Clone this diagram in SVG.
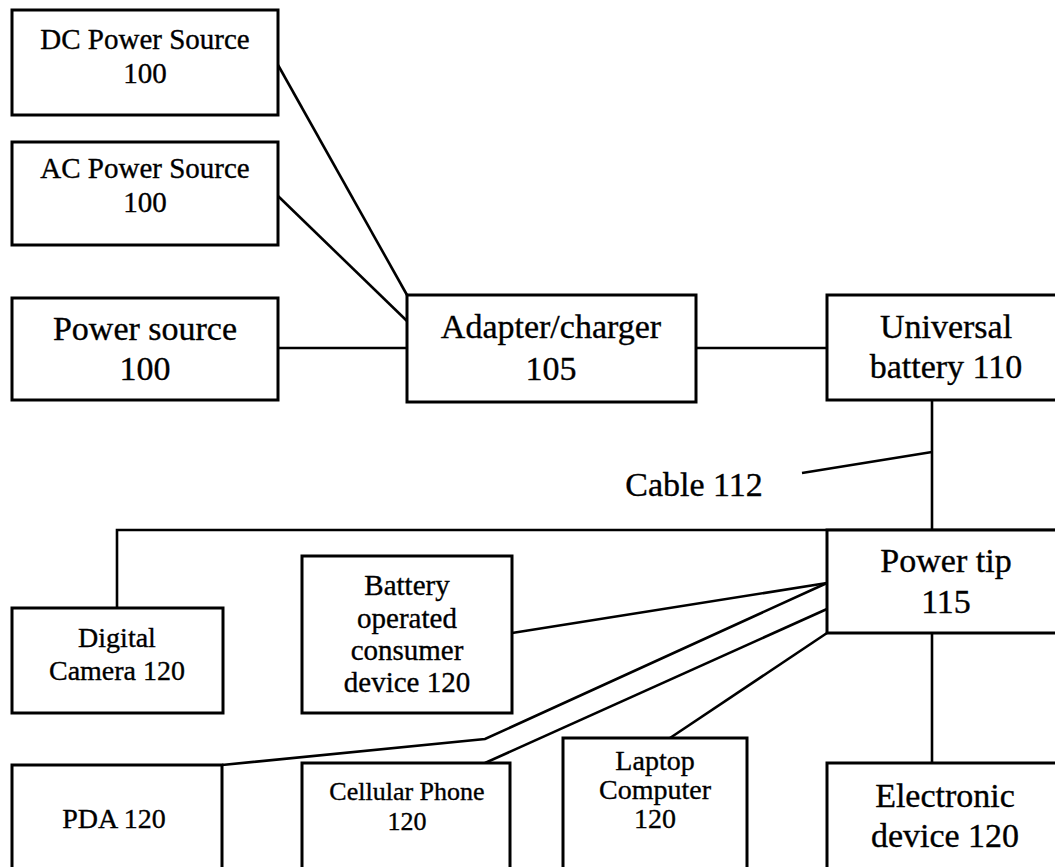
<svg xmlns="http://www.w3.org/2000/svg" width="1055" height="867" viewBox="0 0 1055 867">
<style>
.box{fill:#fff;stroke:#000;stroke-width:3}
.ln{fill:none;stroke:#000;stroke-width:2.6;stroke-linejoin:miter}
text{font-family:"Liberation Serif","Times New Roman",serif;fill:#000;stroke:#000;stroke-width:0.35;text-anchor:middle}
.s{font-size:28px}
.m{font-size:29px}
.l{font-size:34px}
.c{font-size:26px}
</style>
<rect width="1055" height="867" fill="#fff"/>
<g id="connectors">
<line class="ln" x1="278" y1="65" x2="407" y2="295"/>
<line class="ln" x1="278" y1="196" x2="407" y2="321"/>
<line class="ln" x1="278" y1="348" x2="407" y2="348"/>
<line class="ln" x1="696" y1="348" x2="827" y2="348"/>
<line class="ln" x1="932" y1="400" x2="932" y2="530"/>
<line class="ln" x1="802" y1="473" x2="932" y2="452"/>
<polyline class="ln" points="117,608 117,530 1060,530"/>
<line class="ln" x1="512" y1="633" x2="827" y2="583"/>
<polyline class="ln" points="222,765 485,739 827,583"/>
<line class="ln" x1="485" y1="763" x2="827" y2="609"/>
<line class="ln" x1="670" y1="738" x2="827" y2="633"/>
<line class="ln" x1="932" y1="633" x2="932" y2="763"/>
</g>
<g id="dc-source">
<rect class="box" x="12" y="10" width="266" height="105"/>
<text class="m" x="145" y="49">DC Power Source</text>
<text class="m" x="145" y="83">100</text>
</g>
<g id="ac-source">
<rect class="box" x="12" y="142" width="266" height="103"/>
<text class="m" x="145" y="178">AC Power Source</text>
<text class="m" x="145" y="212">100</text>
</g>
<g id="power-source">
<rect class="box" x="12" y="298" width="266" height="102"/>
<text class="l" x="145" y="340">Power source</text>
<text class="l" x="145" y="380">100</text>
</g>
<g id="adapter">
<rect class="box" x="407" y="295" width="289" height="107"/>
<text class="l" x="551" y="338">Adapter/charger</text>
<text class="l" x="551" y="380">105</text>
</g>
<g id="universal-battery">
<rect class="box" x="827" y="295" width="240" height="105"/>
<text class="l" x="946" y="338">Universal</text>
<text class="l" x="946" y="378">battery 110</text>
</g>
<g id="cable-label">
<text class="l" x="694" y="496">Cable 112</text>
</g>
<g id="power-tip">
<rect class="box" x="827" y="530" width="240" height="103"/>
<text class="l" x="946" y="572">Power tip</text>
<text class="l" x="946" y="613">115</text>
</g>
<g id="digital-camera">
<rect class="box" x="12" y="608" width="211" height="105"/>
<text class="s" x="117" y="647">Digital</text>
<text class="s" x="117" y="680">Camera 120</text>
</g>
<g id="battery-device">
<rect class="box" x="302" y="556" width="210" height="157"/>
<text class="m" x="407" y="595">Battery</text>
<text class="m" x="407" y="628">operated</text>
<text class="m" x="407" y="660">consumer</text>
<text class="m" x="407" y="692">device 120</text>
</g>
<g id="pda">
<rect class="box" x="12" y="765" width="210" height="120"/>
<text class="s" x="114" y="828">PDA 120</text>
</g>
<g id="cellular-phone">
<rect class="box" x="302" y="763" width="208" height="120"/>
<text class="c" x="407" y="800">Cellular Phone</text>
<text class="c" x="407" y="830">120</text>
</g>
<g id="laptop">
<rect class="box" x="563" y="738" width="184" height="145"/>
<text class="s" x="655" y="770">Laptop</text>
<text class="s" x="655" y="799">Computer</text>
<text class="s" x="655" y="828">120</text>
</g>
<g id="electronic-device">
<rect class="box" x="827" y="763" width="240" height="120"/>
<text class="l" x="945" y="807">Electronic</text>
<text class="l" x="945" y="847">device 120</text>
</g>
</svg>
